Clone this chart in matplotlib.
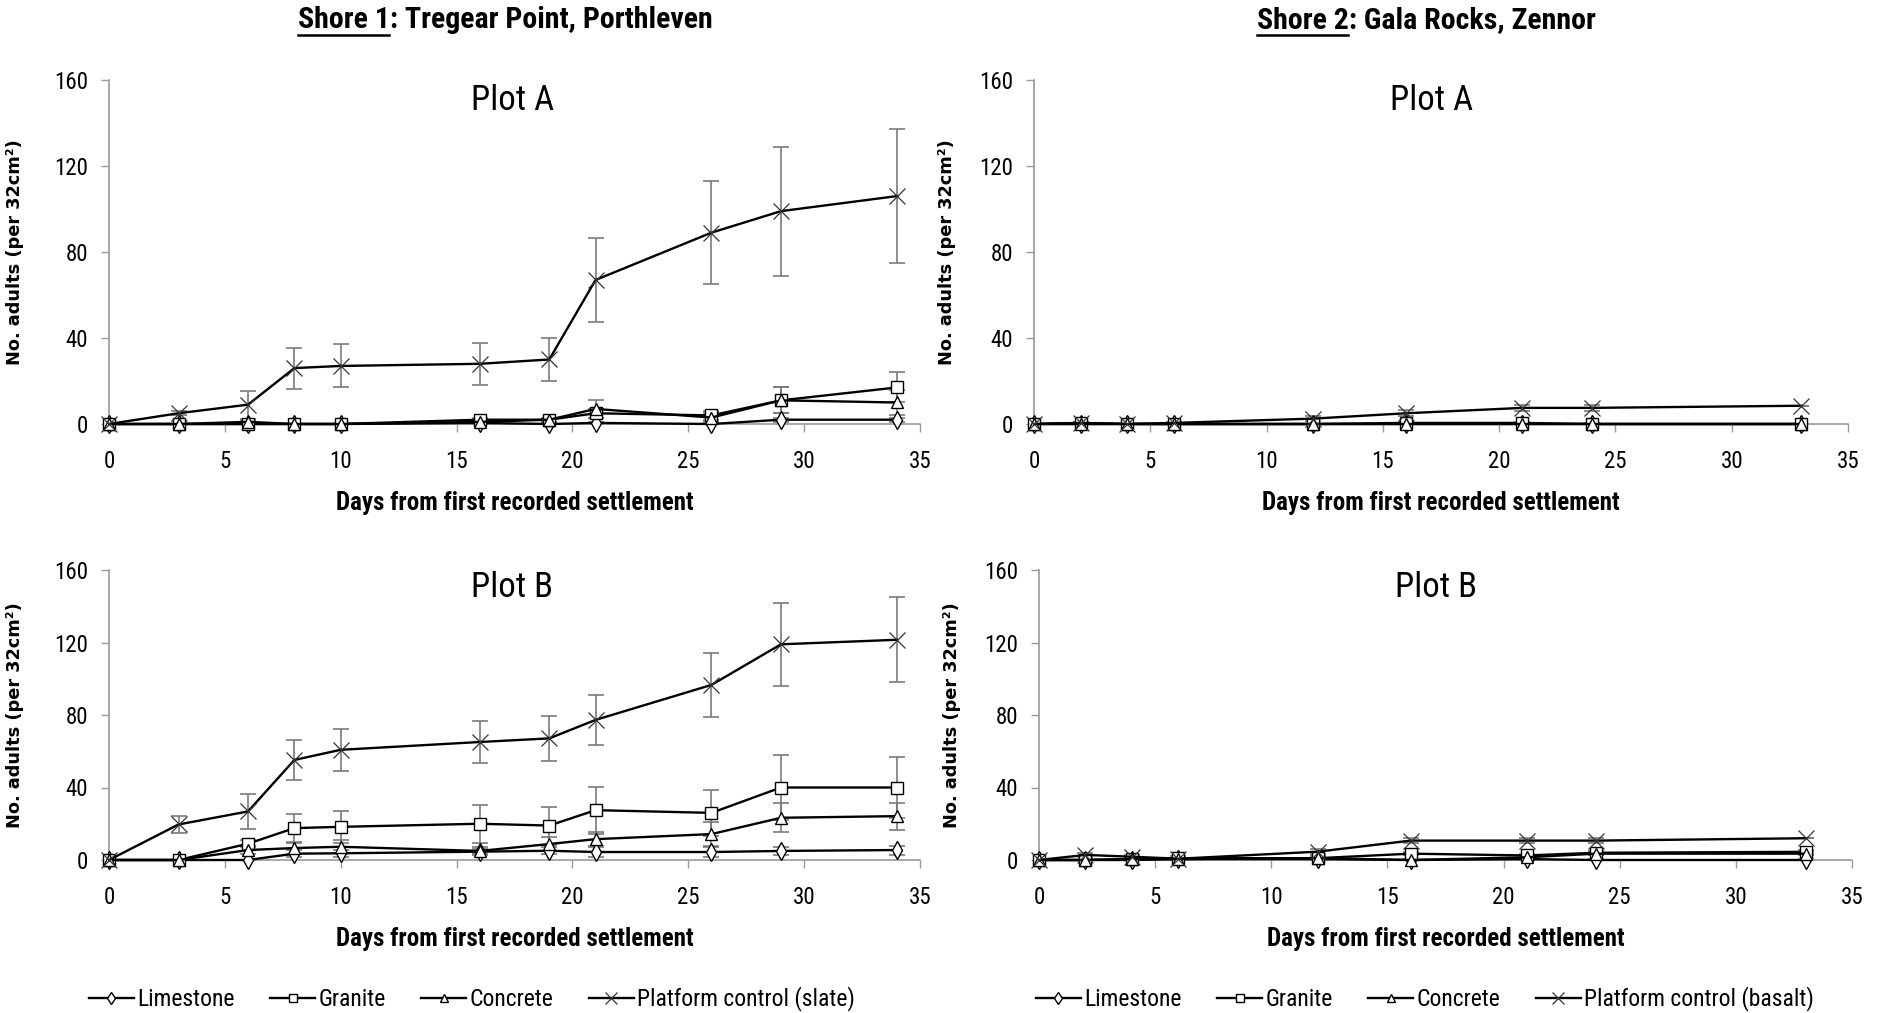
import matplotlib
matplotlib.use("Agg")
import matplotlib.pyplot as plt
from matplotlib import font_manager
from matplotlib.lines import Line2D

# ---------------- data ----------------
days_s1 = [0, 3, 6, 8, 10, 16, 19, 21, 26, 29, 34]
days_s2 = [0, 2, 4, 6, 12, 16, 21, 24, 33]

s1a_limestone = [0, 0, 0, 0, 0, 0.5, 0, 0.5, 0, 2, 2]
s1a_limestone_err = [0, 0, 0, 0, 0, 0.5, 0.5, 0.5, 0, 1, 1]
s1a_granite = [0, 0, 0, 0, 0, 2, 2, 5, 4, 11, 17]
s1a_granite_err = [0, 0, 0.5, 0, 0, 1, 1, 2, 2, 6, 7]
s1a_concrete = [0, 0, 1, 0, 0, 1, 2, 7, 3, 11, 10]
s1a_concrete_err = [0, 0, 1, 0, 0, 1, 1, 4, 2, 6, 6]
s1a_platform = [0, 5, 9, 26, 27, 28, 30, 67, 89, 99, 106]
s1a_platform_err = [0, 1, 6.5, 9.5, 10, 9.8, 9.8, 19.5, 24, 30, 31]

s1b_limestone = [0, 0, 0, 3.5, 3.7, 4.6, 5.1, 4.4, 4.4, 5, 5.5]
s1b_limestone_err = [0, 0, 0, 2, 2, 1.5, 2, 2.5, 2.5, 2, 2.5]
s1b_granite = [0, 0, 9, 17.6, 18.3, 20, 19, 27.5, 26, 40, 40]
s1b_granite_err = [0, 0, 2, 8, 9, 10.6, 10.5, 13, 12.6, 18, 17]
s1b_concrete = [0, 0, 5.5, 6.6, 7.3, 5, 8.8, 11.5, 14.3, 23.3, 24.2]
s1b_concrete_err = [0, 0, 2, 3.5, 3.5, 2, 4, 4, 6.6, 8, 7.5]
s1b_platform = [0, 19.6, 26.8, 55.2, 60.8, 65.1, 67.1, 77.3, 96.6, 119, 121.5]
s1b_platform_err = [0, 4.6, 9.5, 11, 11.7, 11.7, 12.4, 14, 17.5, 23, 23.4]

s2a_limestone = [0, 0, 0, 0, 0, 0, 0, 0, 0]
s2a_limestone_err = [0, 0, 0, 0, 0, 0, 0, 0, 0]
s2a_granite = [0, 0.5, 0, 0, 0, 0.5, 0.5, 0, 0]
s2a_granite_err = [0, 0.5, 0, 0, 0, 0.5, 0.5, 0, 0]
s2a_concrete = [0, 0, 0, 0, 0, 0, 0, 0, 0]
s2a_concrete_err = [0, 0, 0, 0, 0, 0.5, 0.5, 0.5, 0]
s2a_platform = [0, 0.5, 0, 0.5, 2.5, 5, 7.5, 7.5, 8.5]
s2a_platform_err = [0, 0.5, 0, 0.5, 1, 1.5, 1.5, 1.5, 0]

s2b_limestone = [0, 0, 0, 0.5, 0.5, 0, 0.5, 0, 0]
s2b_limestone_err = [0, 0, 0, 0.5, 0.5, 0, 0.5, 0.5, 0.5]
s2b_granite = [0, 0, 0.5, 1, 1, 3.5, 2.5, 4, 4.5]
s2b_granite_err = [0, 0, 0.5, 1, 1, 1, 1, 1, 1]
s2b_concrete = [0, 0, 0.5, 0.5, 1, 0, 1.5, 3.5, 3.5]
s2b_concrete_err = [0, 0, 0.5, 0.5, 1, 0.5, 1, 1, 1]
s2b_platform = [0, 2.8, 1.8, 0.7, 4.6, 10.7, 10.7, 10.7, 12]
s2b_platform_err = [0, 1, 1, 0.5, 1.5, 1.5, 1.5, 1.5, 0]

series_names = ["Limestone", "Granite", "Concrete"]
control_s1 = "Platform control (slate)"
control_s2 = "Platform control (basalt)"
shore1_title = ("Shore 1", ": Tregear Point, Porthleven")
shore2_title = ("Shore 2", ": Gala Rocks, Zennor")
plot_titles = ["Plot A", "Plot B"]
xlabel = "Days from first recorded settlement"
ylabel = "No. adults (per 32cm²)"
xticks = [0, 5, 10, 15, 20, 25, 30, 35]
yticks = [0, 40, 80, 120, 160]

# ---------------- fonts ----------------
available = {f.name for f in font_manager.fontManager.ttflist}
narrow = "DejaVu Sans"
for cand in ["Liberation Sans Narrow", "Roboto Condensed", "Open Sans Condensed",
             "DejaVu Sans Condensed", "Open Sans"]:
    if cand in available:
        narrow = cand
        break
plt.rcParams["font.family"] = [narrow, "DejaVu Sans"]

GREY = "#9a9a9a"
ERR = "#7a7a7a"

W, H = 1881, 1013
fig = plt.figure(figsize=(W / 100, H / 100), dpi=100)

def fx(px):
    return px / W

def fy(py):
    return 1 - py / H

axes_px = {
    (0, 0): (109, 920, 80, 424),
    (1, 0): (109, 920, 570, 860),
    (0, 1): (1034, 1848, 80, 424),
    (1, 1): (1039, 1852, 570, 860),
}
ylabel_x = {0: -0.105, 1: -0.096}
title_x = {0: 0.497, 1: 0.488}

markers = ["d", "s", "^", "x"]

panel_data = {
    (0, 0): (days_s1, [(s1a_limestone, s1a_limestone_err), (s1a_granite, s1a_granite_err),
                       (s1a_concrete, s1a_concrete_err), (s1a_platform, s1a_platform_err)], control_s1),
    (1, 0): (days_s1, [(s1b_limestone, s1b_limestone_err), (s1b_granite, s1b_granite_err),
                       (s1b_concrete, s1b_concrete_err), (s1b_platform, s1b_platform_err)], control_s1),
    (0, 1): (days_s2, [(s2a_limestone, s2a_limestone_err), (s2a_granite, s2a_granite_err),
                       (s2a_concrete, s2a_concrete_err), (s2a_platform, s2a_platform_err)], control_s2),
    (1, 1): (days_s2, [(s2b_limestone, s2b_limestone_err), (s2b_granite, s2b_granite_err),
                       (s2b_concrete, s2b_concrete_err), (s2b_platform, s2b_platform_err)], control_s2),
}

legend_handles = {}
for (r, c), (x0, x1, y0, y1) in axes_px.items():
    ax = fig.add_axes([fx(x0), fy(y1), fx(x1) - fx(x0), (y1 - y0) / H])
    days, series, control = panel_data[(r, c)]
    names = series_names + [control]
    handles = []
    for i, ((vals, errs), name) in enumerate(zip(series, names)):
        ax.errorbar(days, vals, yerr=errs, fmt="none", ecolor=ERR, elinewidth=1.2,
                    capsize=6, capthick=1.2, zorder=2)
        if markers[i] == "x":
            ln, = ax.plot(days, vals, color="black", lw=1.7, marker="x",
                          markersize=12, markeredgewidth=0.9, markeredgecolor="#333333",
                          zorder=4, label=name, clip_on=False)
        else:
            ln, = ax.plot(days, vals, color="black", lw=1.7, marker=markers[i],
                          markersize=9, markerfacecolor="white", markeredgecolor="black",
                          markeredgewidth=1.0, zorder=3, label=name, clip_on=False)
        handles.append(ln)
    legend_handles[c] = handles
    ax.set_xlim(0, 35)
    ax.set_ylim(0, 160)
    ax.set_xticks(xticks)
    ax.set_yticks(yticks)
    for s in ["top", "right"]:
        ax.spines[s].set_visible(False)
    for s in ["left", "bottom"]:
        ax.spines[s].set_color(GREY)
        ax.spines[s].set_linewidth(1.2)
    ax.tick_params(axis="both", direction="out", length=6, width=1.0, color=GREY,
                   labelsize=16.5, labelcolor="black")
    ax.tick_params(axis="x", pad=13)
    ax.tick_params(axis="y", pad=9)
    ax.set_xlabel(xlabel, fontsize=18, fontweight="bold", labelpad=13)
    ax.set_ylabel(ylabel, fontsize=12.8, fontweight="bold", family="DejaVu Sans")
    ax.yaxis.set_label_coords(ylabel_x[c], 0.5)
    ax.text(title_x[c], 0.94, plot_titles[r], transform=ax.transAxes, ha="center",
            va="center", fontsize=25)
    ax.patch.set_alpha(0)

# legends
for c, cx in [(0, 472), (1, 1425)]:
    fig.legend(handles=legend_handles[c], loc="center", bbox_to_anchor=(fx(cx), fy(999)),
               ncol=4, frameon=False, fontsize=17, handlelength=1.9, handletextpad=0.15,
               columnspacing=1.5, markerscale=0.7)

# shore titles with underlined prefix
fig.canvas.draw()
renderer = fig.canvas.get_renderer()
for (prefix, rest), cx in [(shore1_title, 505), (shore2_title, 1426)]:
    t = fig.text(fx(cx), fy(20), prefix + rest, ha="center", va="center",
                 fontsize=21.5, fontweight="bold")
    tmp = fig.text(0, 0, prefix, fontsize=21.5, fontweight="bold")
    bb = t.get_window_extent(renderer)
    wpre = tmp.get_window_extent(renderer).width
    tmp.remove()
    yline = bb.y0 - 1
    fig.add_artist(Line2D([bb.x0 / W, (bb.x0 + wpre) / W], [yline / H, yline / H],
                          color="black", lw=1.8, transform=fig.transFigure))

fig.savefig("out.png", dpi=100)
